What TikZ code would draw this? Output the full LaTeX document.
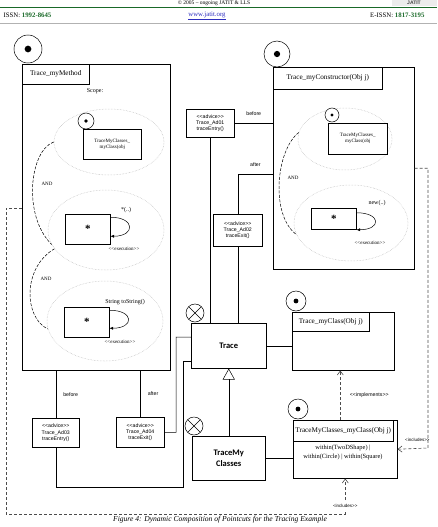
\documentclass[tikz,border=0pt]{standalone}
\usepackage{fontspec}
\setmainfont{Liberation Serif}
\setsansfont{Liberation Sans}
\newfontfamily\calibfont{Carlito}
\usetikzlibrary{shapes.geometric,arrows.meta,calc}
\definecolor{jgreen}{RGB}{25,105,40}
\definecolor{jblue}{RGB}{45,45,190}
\newcommand\dlt{<\kern0pt<}
\newcommand\dgt{>\kern0pt>}
\tikzset{
  box/.style={draw, anchor=north west, inner sep=0pt, align=center},
  oval/.style={ellipse, draw=gray!55, densely dotted, inner sep=0pt},
  aspect/.style={circle, draw, fill=white, inner sep=0pt, minimum size=#1,
    path picture={\fill[black] (path picture bounding box.center) circle ({#1*0.12pt});}},
  xcirc/.style={circle, draw, fill=white, inner sep=0pt, minimum size=18,
    path picture={\draw[black] (path picture bounding box.north west) -- (path picture bounding box.south east)
      (path picture bounding box.south west) -- (path picture bounding box.north east);}},
  ttl/.style={font=\fontsize{7.2}{8}\selectfont},
  sm/.style={font=\fontsize{5}{6}\selectfont},
  txt/.style={font=\fontsize{6}{7}\selectfont},
  adv/.style={font=\sffamily\fontsize{5.2}{6.3}\selectfont},
  big/.style={font=\calibfont\bfseries\fontsize{8.5}{10.5}\selectfont},
  dep/.style={draw=black!70, dash pattern=on 3pt off 2pt, line width=0.6pt},
  loop/.style={-{Latex[length=3.5pt,width=3pt]}}
}
\begin{document}
\begin{tikzpicture}[x=1pt, y=-1pt, line width=0.5pt]
\useasboundingbox (0,0) rectangle (437,527);
\node[font=\fontsize{5.5}{6}\selectfont] (top) at (214,3.2) {\textcopyright\ 2005 -- ongoing JATIT \& LLS};
\fill[gray!15] (392,0) rectangle (437,6.5);
\node[font=\sffamily\bfseries\fontsize{5}{6}\selectfont, text=black!75] (logo) at (414,3.3) {JATIT};
\draw[jgreen, line width=0.9pt] (0,7) -- (437,7);
\draw[gray!60, line width=0.6pt] (0,23) -- (437,23);
\node[anchor=west, font=\fontsize{6.8}{8}\selectfont] (issn) at (0,15.5) {ISSN: \textcolor{jgreen}{\textbf{1992-8645}}};
\node[font=\fontsize{6.8}{8}\selectfont, text=jblue] (web) at (207,15.5) {\underline{www.jatit.org}};
\node[anchor=east, font=\fontsize{6.8}{8}\selectfont] (eissn) at (428,15.5) {E-ISSN: \textcolor{jgreen}{\textbf{1817-3195}}};

\node[box, minimum width=148, minimum height=306] (mm) at (22,64) {};
\node[box, ttl, minimum width=67, minimum height=20] (mmt) at (22,64) {Trace\_myMethod};
\node[aspect=28] (amm) at (28,49) {};
\node[txt] (scope) at (95,91) {Scope:};
\node[oval, minimum width=110, minimum height=66] (e1) at (109,142) {};
\node[aspect=16] (ae1) at (86,121) {};
\node[box, sm, minimum width=58, minimum height=30] (c1) at (83,129) {TraceMyClasses\_\\myClass(obj};
\node[sm] (and1) at (47,184) {AND};
\node[oval, minimum width=116, minimum height=80] (e2) at (106,230) {};
\node[box, minimum width=45, minimum height=30, font=\bfseries\fontsize{11}{11}\selectfont] (s1) at (65,214) {*};
\node[txt] (p1) at (126,210) {*(..)};
\node[sm] (x1) at (124,249) {\dlt execution\dgt};
\node[sm] (and2) at (46,279) {AND};
\node[oval, minimum width=116, minimum height=80] (e3) at (105,321) {};
\node[box, minimum width=45, minimum height=30, font=\bfseries\fontsize{11}{11}\selectfont] (s2) at (64,307) {*};
\node[txt] (p2) at (125,302) {String toString()};
\node[sm] (x2) at (120,342) {\dlt execution\dgt};
\draw[loop] ([yshift=12]s1.east) .. controls +(25,0) and +(25,0) .. ([yshift=-7]s1.east);
\draw[loop] ([yshift=12]s2.east) .. controls +(25,0) and +(25,0) .. ([yshift=-6]s2.east);
\draw[dash pattern=on 3pt off 1.5pt] (e1.west) .. controls (30,150) and (22,215) .. (e2.195);
\draw[dash pattern=on 3pt off 1.5pt] (e2.200) .. controls (22,268) and (24,318) .. (e3.188);

\node[box, adv, minimum width=47, minimum height=29] (ad3) at (32,418) {\dlt advice\dgt\\Trace\_Ad03\\traceEntry()};
\node[box, adv, minimum width=48, minimum height=30] (ad4) at (116,417) {\dlt advice\dgt\\Trace\_Ad04\\traceExit()};
\draw (ad3.north |- mm.south) -- node[adv, right=4pt] {before} (ad3.north);
\draw (ad4.north |- mm.south) -- node[adv, right=4pt] {after} (ad4.north);

\node[box, minimum width=75, minimum height=45, big] (tr) at (191,323) {Trace};
\node[xcirc] (xt) at (195,313) {};
\node[box, minimum width=73, minimum height=44, big] (tmc) at (192,436) {TraceMy\\Classes};
\node[xcirc] (xc) at (194,426) {};
\coordinate (k1) at (183,487);
\coordinate (k2) at (176,337);
\draw (ad3.south) |- (k1) |- ([yshift=-15.5]tr.west);
\draw (ad4.east) -| (k2) -- ([yshift=8.5]tr.west);

\node[box, minimum width=141, minimum height=202] (mc) at (273,67) {};
\node[box, ttl, minimum width=109, minimum height=22] (mct) at (273,67) {Trace\_myConstructor(Obj j)};
\node[aspect=26] (amc) at (277,54) {};
\node[oval, minimum width=94, minimum height=62] (ec1) at (345,139) {};
\node[aspect=14] (aec1) at (332,115) {};
\node[box, sm, minimum width=59, minimum height=31] (c2) at (328,123) {TraceMyClasses\_\\myClass(obj};
\node[sm] (and3) at (293,178) {AND};
\node[oval, minimum width=114, minimum height=76] (ec2) at (351,223) {};
\node[box, minimum width=45, minimum height=21, font=\bfseries\fontsize{11}{11}\selectfont] (s3) at (311,208) {*};
\node[txt] (p3) at (377,203) {new(..)};
\node[sm] (x3) at (370,243) {\dlt execution\dgt};
\draw[loop] ([yshift=6]s3.east) .. controls +(25,0) and +(25,0) .. ([yshift=-11]s3.east);
\draw[dash pattern=on 3pt off 1.5pt] (ec1.172) .. controls (276,150) and (270,215) .. (ec2.192);

\node[box, adv, minimum width=48, minimum height=28] (ad1) at (186,109) {\dlt advice\dgt\\Trace\_Ad01\\traceEntry()};
\node[box, adv, minimum width=49, minimum height=32] (ad2) at (213,214) {\dlt advice\dgt\\Trace\_Ad02\\traceExit()};
\draw (ad1.east) -- node[adv, above=4pt] {before} (ad1.east -| mc.west);
\draw (ad2.north) |- node[adv, above=4pt, pos=0.75] {after} ([yshift=-6]mc.west);
\draw (ad1.south) -- (ad1.south |- tr.north);
\draw (ad2.south) -- (ad2.south |- tr.north);

\node[box, minimum width=102, minimum height=58] (mcl) at (292,312) {};
\node[box, ttl, minimum width=77, minimum height=19] (mclt) at (292,312) {Trace\_myClass(Obj j)};
\node[aspect=20] (amcl) at (296,301) {};
\node[box, minimum width=104, minimum height=58] (tmcl) at (293,420) {};
\node[box, ttl, minimum width=100, minimum height=21] (tmclt) at (293,420) {TraceMyClasses\_myClass(Obj j)};
\node[font=\fontsize{6.4}{8.5}\selectfont, align=center] (w) at (343,452.5) {within(TwoDShape) |\\within(Circle) | within(Square)};
\node[aspect=20] (atmcl) at (298,409) {};

\draw (tr.east) -- (tr.east -| mcl.west);
\draw (tmc.east) -- (tmc.east -| tmcl.west);
\draw[-{Triangle[open,length=11pt,width=12pt]}] (tmc.north) -- (tr.south);
\draw[dep, -{Straight Barb[length=4pt,width=6pt]}] ([xshift=-5]tmcl.north) -- ([xshift=-5]tmcl.north |- mcl.south) node[adv, pos=0.5, right=6pt] {\dlt implements\dgt};
\coordinate (k3) at (428,448);
\coordinate (k4) at (6,514);
\draw[dep, -{Straight Barb[length=4pt,width=6pt]}] (mc.east) -| (k3) -- node[adv, above=3pt, pos=0.35, font=\sffamily\fontsize{4.5}{5}\selectfont] {<includes\dgt} (tmcl.east);
\draw[dep, -{Straight Barb[length=4pt,width=6pt]}] ([yshift=9]mm.west) -| (k4) -| node[pos=0.62, fill=white, font=\sffamily\fontsize{4.5}{5}\selectfont] {<includes\dgt} (tmcl.south);

\node[font=\itshape\fontsize{7.6}{9}\selectfont] (cap) at (220,520) {Figure 4: Dynamic Composition of Pointcuts for the Tracing Example};
\end{tikzpicture}
\end{document}
